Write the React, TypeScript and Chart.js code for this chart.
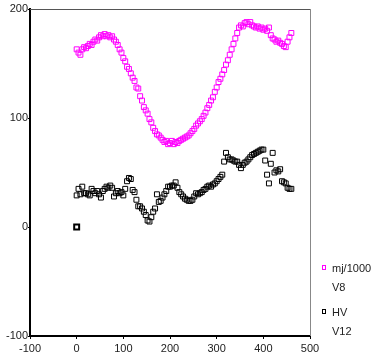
import React, { useEffect, useRef } from "react";
import { Chart, registerables } from "chart.js";

Chart.register(...registerables);

const xTickLabels = ["-100", "0", "100", "200", "300", "400", "500"];
const yTickLabels = ["-100", "0", "100", "200"];

const mjX = [
  0, 4, 8, 12, 16, 20, 24, 28, 32, 36, 40, 44, 48, 52, 56, 60, 64, 68, 72, 76,
  80, 84, 88, 92, 96, 100, 104, 108, 112, 116, 120, 124, 128, 132, 136, 140, 144, 148, 152, 156,
  160, 164, 168, 172, 176, 180, 184, 188, 192, 196, 200, 204, 208, 212, 216, 220, 224, 228, 232, 236,
  240, 244, 248, 252, 256, 260, 264, 268, 272, 276, 280, 284, 288, 292, 296, 300, 304, 308, 312, 316,
  320, 324, 328, 332, 336, 340, 344, 348, 352, 356, 360, 364, 368, 372, 376, 380, 384, 388, 392, 396,
  400, 404, 408, 412, 416, 420, 424, 428, 432, 436, 440, 444, 448, 452, 456, 460,
];
const mjY = [
  163, 160, 158, 163, 165, 164, 166, 168, 167, 170, 172, 171, 174, 176, 175, 177, 175, 176, 174, 175,
  172, 170, 167, 163, 160, 155, 152, 147, 145, 141, 137, 134, 128, 127, 120, 116, 110, 107, 104, 99,
  96, 91, 88, 85, 84, 82, 80, 78, 79, 76, 77, 79, 76, 78, 77, 79, 80, 81, 82, 83,
  84, 86, 88, 90, 93, 95, 97, 99, 102, 105, 109, 112, 116, 119, 124, 128, 133, 136, 140, 144,
  149, 153, 158, 163, 168, 173, 178, 183, 185, 184, 187, 188, 186, 188, 185, 184, 183, 184, 182, 183,
  181, 182, 180, 183, 176, 173, 172, 170, 171, 169, 168, 166, 165, 170, 174, 178,
];

const hvX = [
  0,
  0, 4, 8, 12, 16, 20, 24, 28, 32, 36, 40, 44, 48, 52, 56, 60, 64, 68, 72, 76,
  80, 84, 88, 92, 96, 100, 104, 108, 112, 116, 120, 124, 128, 132, 136, 140, 144, 148, 152, 156,
  160, 164, 168, 172, 176, 180, 184, 188, 192, 196, 200, 204, 208, 212, 216, 220, 224, 228, 232, 236,
  240, 244, 248, 252, 256, 260, 264, 268, 272, 276, 280, 284, 288, 292, 296, 300, 304, 308, 312, 316,
  320, 324, 328, 332, 336, 340, 344, 348, 352, 356, 360, 364, 368, 372, 376, 380, 384, 388, 392, 396,
  400, 404, 408, 412, 416, 420, 424, 428, 432, 436, 440, 444, 448, 452, 456, 460,
];
const hvY = [
  0,
  29, 35, 30, 37, 31, 31, 30, 29, 35, 33, 31, 33, 30, 27, 33, 35, 37, 36, 38, 36,
  28, 31, 33, 31, 32, 29, 35, 42, 45, 44, 34, 32, 25, 19, 19, 17, 14, 11, 6, 5,
  9, 14, 17, 30, 23, 24, 27, 30, 33, 37, 37, 38, 38, 41, 36, 32, 30, 28, 26, 25,
  24, 24, 25, 28, 31, 30, 31, 32, 34, 35, 37, 38, 37, 39, 40, 42, 44, 46, 48, 60,
  68, 64, 62, 62, 61, 60, 60, 57, 54, 57, 59, 60, 62, 64, 66, 67, 68, 69, 70, 71,
  71, 61, 48, 40, 58, 68, 50, 52, 51, 53, 42, 41, 40, 36, 35, 35,
];

const legendItems = [
  { label: "mj/1000", sub: "V8", color: "#FF00FF" },
  { label: "HV", sub: "V12", color: "#000000" },
];

const FONT = "'Liberation Sans', Arial, sans-serif";

export default function App() {
  const ref = useRef<HTMLCanvasElement>(null);
  useEffect(() => {
    document.body.style.margin = "0";
    const canvas = ref.current!;
    const framePlugin = {
      id: "frame",
      afterDraw(chart: any) {
        const { ctx, chartArea } = chart;
        const { left, right, top, bottom } = chartArea;
        ctx.save();
        ctx.lineWidth = 1;
        ctx.strokeStyle = "#555555";
        ctx.beginPath();
        ctx.moveTo(left, top + 0.5);
        ctx.lineTo(right, top + 0.5);
        ctx.stroke();
        ctx.strokeStyle = "#888888";
        ctx.beginPath();
        ctx.moveTo(right + 0.5, top);
        ctx.lineTo(right + 0.5, bottom);
        ctx.stroke();
        // legend
        ctx.font = `11px ${FONT}`;
        ctx.textBaseline = "middle";
        ctx.textAlign = "left";
        const lx = right + 12;
        const rows = [chartArea.bottom - 68, chartArea.bottom - 24];
        legendItems.forEach((it, i) => {
          const y = rows[i];
          ctx.strokeStyle = it.color;
          ctx.lineWidth = 1;
          ctx.strokeRect(lx + 0.5, y - 2.5, 3, 4);
          ctx.fillStyle = "#222222";
          ctx.fillText(it.label, lx + 10, y + 1);
          ctx.fillText(it.sub, lx + 10, y + 20);
        });
        ctx.restore();
      },
    };
    const originBold = (c: any) =>
      c.raw && c.raw.x === 0 && c.raw.y === 0 ? 2 : 1;
    const chart = new Chart(canvas, {
      type: "scatter",
      data: {
        datasets: [
          {
            label: legendItems[0].label,
            data: mjX.map((x, i) => ({ x, y: mjY[i] })),
            borderColor: "#FF00FF",
            backgroundColor: "rgba(0,0,0,0)",
            pointStyle: "rect",
            pointRadius: 3.5,
            borderWidth: 1,
          },
          {
            label: legendItems[1].label,
            data: hvX.map((x, i) => ({ x, y: hvY[i] })),
            borderColor: "#000000",
            backgroundColor: "rgba(0,0,0,0)",
            pointStyle: "rect",
            pointRadius: 3.5,
            borderWidth: originBold,
          },
        ],
      },
      options: {
        animation: false,
        responsive: true,
        maintainAspectRatio: false,
        layout: { padding: { top: 9, right: 67, left: 0, bottom: 0 } },
        plugins: { legend: { display: false }, tooltip: { enabled: false } },
        scales: {
          x: {
            type: "linear",
            min: -100,
            max: 500,
            afterFit(scale: any) {
              scale.height = 22;
            },
            afterBuildTicks(scale: any) {
              scale.ticks = xTickLabels.map((t) => ({ value: Number(t) }));
            },
            ticks: {
              font: { size: 11, family: FONT },
              color: "#222222",
              padding: 3,
              maxRotation: 0,
              callback: (v: any) => String(v),
            },
            grid: { drawOnChartArea: false, tickLength: 3, tickColor: "#000000" },
            border: { color: "#000000", width: 2 },
          },
          y: {
            type: "linear",
            min: -100,
            max: 200,
            afterFit(scale: any) {
              scale.width = 30;
            },
            afterBuildTicks(scale: any) {
              scale.ticks = yTickLabels.map((t) => ({ value: Number(t) }));
            },
            ticks: {
              font: { size: 11, family: FONT },
              color: "#222222",
              padding: 0,
              callback: (v: any) => String(v),
            },
            grid: { drawOnChartArea: false, tickLength: 2, tickColor: "#000000" },
            border: { color: "#000000", width: 2 },
          },
        },
      },
      plugins: [framePlugin],
    });
    return () => chart.destroy();
  }, []);
  return (
    <div style={{ position: "absolute", left: 0, top: 0, width: 377, height: 358 }}>
      <canvas ref={ref} />
    </div>
  );
}
